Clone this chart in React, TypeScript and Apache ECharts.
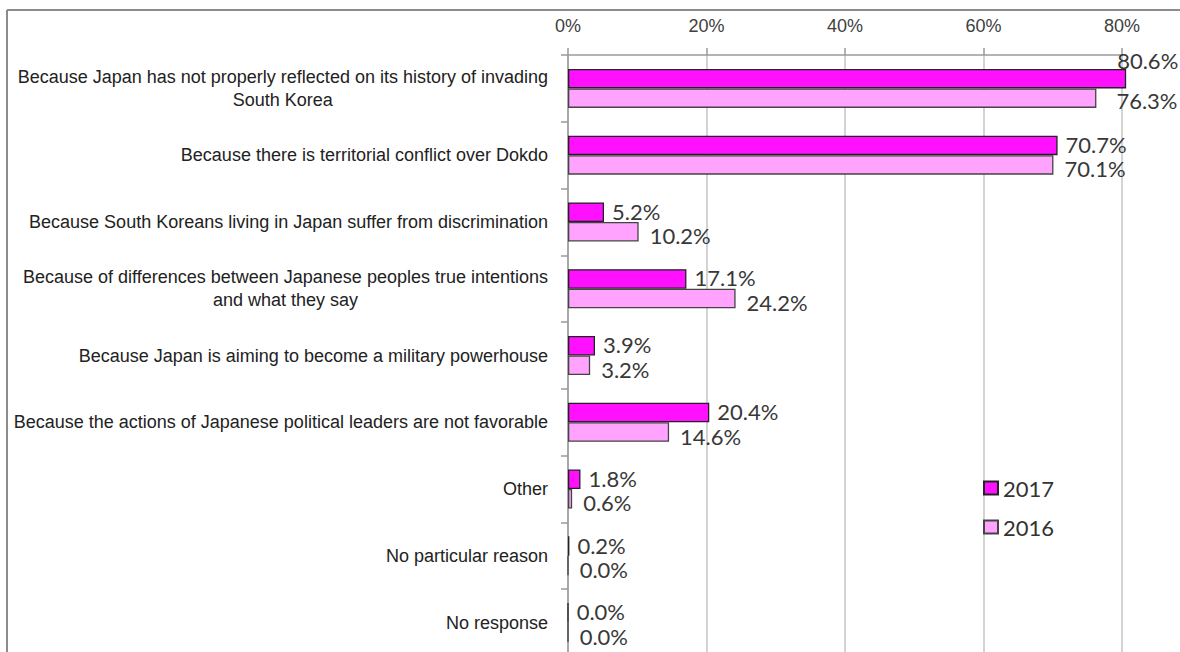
import React, { useEffect, useRef } from "react";
import * as echarts from "echarts";

const categories: string[] = [
  "Because Japan has not properly reflected on its history of invading\nSouth Korea",
  "Because there is territorial conflict over Dokdo",
  "Because South Koreans living in Japan suffer from discrimination",
  "Because of differences between Japanese peoples true intentions\nand what they say",
  "Because Japan is aiming to become a military powerhouse",
  "Because the actions of Japanese political leaders are not favorable",
  "Other",
  "No particular reason",
  "No response",
];

const values2017: number[] = [80.6, 70.7, 5.2, 17.1, 3.9, 20.4, 1.8, 0.2, 0.0];
const values2016: number[] = [76.3, 70.1, 10.2, 24.2, 3.2, 14.6, 0.6, 0.0, 0.0];

const seriesNames: string[] = ["2017", "2016"];
const xTicks: number[] = [0, 20, 40, 60, 80];

const LABEL_FONT = "'Liberation Sans', Arial, sans-serif";
const DATA_FONT = "Lato, 'Open Sans', sans-serif";

export default function App() {
  const ref = useRef<HTMLDivElement>(null);

  useEffect(() => {
    if (!ref.current) return;
    const chart = echarts.init(ref.current, undefined, { renderer: "svg" });

    // labels of the longest bars are pulled back so they stay inside the picture
    const mkData = (vals: number[], isTop: boolean) =>
      vals.map((v) => {
        if (v > 75) {
          return {
            value: v,
            label: { offset: isTop ? [-17, -18] : [9, 2] },
          };
        }
        return v;
      });

    const option: any = {
      animation: false,
      backgroundColor: "#ffffff",
      grid: {
        left: 568,
        top: 55,
        width: 554,
        height: 601,
        containLabel: false,
        outerBoundsMode: "none",
      },
      legend: {
        orient: "vertical",
        left: 978,
        top: 472,
        icon: "rect",
        itemWidth: 14,
        itemHeight: 13,
        itemGap: 17,
        data: seriesNames,
        textStyle: {
          fontFamily: DATA_FONT,
          fontSize: 22,
          color: "#333333",
        },
      },
      xAxis: {
        type: "value",
        position: "top",
        min: xTicks[0],
        max: xTicks[xTicks.length - 1],
        interval: 20,
        axisLine: { show: true, lineStyle: { color: "#9a9a9a", width: 1.5 } },
        axisTick: { show: true, length: 7, lineStyle: { color: "#9a9a9a", width: 1.5 } },
        splitLine: { show: true, lineStyle: { color: "#c4c4c4", width: 1.5 } },
        axisLabel: {
          margin: 20,
          fontFamily: LABEL_FONT,
          fontSize: 18,
          color: "#404040",
          formatter: (v: number) => `${v}%`,
        },
      },
      yAxis: {
        type: "category",
        inverse: true,
        data: categories,
        axisLine: { show: true, lineStyle: { color: "#9a9a9a", width: 1.5 } },
        axisTick: { show: true, length: 7, lineStyle: { color: "#9a9a9a", width: 1.5 } },
        axisLabel: {
          margin: 20,
          interval: 0,
          formatter: (s: string) =>
            s
              .split("\n")
              .map((line) => `{c|${line}}`)
              .join("\n"),
          rich: {
            c: {
              align: "center",
              fontFamily: LABEL_FONT,
              fontSize: 18,
              lineHeight: 23,
              color: "#222222",
            },
          },
        },
      },
      series: [
        {
          name: seriesNames[0],
          type: "bar",
          barWidth: 19.5,
          barGap: "0%",
          clip: false,
          data: mkData(values2017, true),
          itemStyle: { color: "#ff10ff", borderColor: "#222222", borderWidth: 1.3 },
          label: {
            show: true,
            position: "right",
            distance: 8,
            offset: [0, -1],
            fontFamily: DATA_FONT,
            fontSize: 22,
            color: "#383838",
            formatter: (p: any) => `${Number(p.value).toFixed(1)}%`,
          },
        },
        {
          name: seriesNames[1],
          type: "bar",
          barWidth: 19.5,
          barGap: "0%",
          clip: false,
          data: mkData(values2016, false),
          itemStyle: { color: "#ffa3ff", borderColor: "#444444", borderWidth: 1.3 },
          label: {
            show: true,
            position: "right",
            distance: 11,
            offset: [0, 4],
            fontFamily: DATA_FONT,
            fontSize: 22,
            color: "#383838",
            formatter: (p: any) => `${Number(p.value).toFixed(1)}%`,
          },
        },
      ],
      graphic: [
        {
          type: "line",
          shape: { x1: 7, y1: 10, x2: 1180, y2: 10 },
          style: { stroke: "#8c8c8c", lineWidth: 2 },
          silent: true,
        },
        {
          type: "line",
          shape: { x1: 7, y1: 10, x2: 7, y2: 652 },
          style: { stroke: "#8c8c8c", lineWidth: 2 },
          silent: true,
        },
      ],
    };

    chart.setOption(option);
    return () => chart.dispose();
  }, []);

  return (
    <div
      ref={ref}
      style={{ position: "fixed", left: 0, top: 0, width: 1180, height: 652, background: "#fff" }}
    />
  );
}
